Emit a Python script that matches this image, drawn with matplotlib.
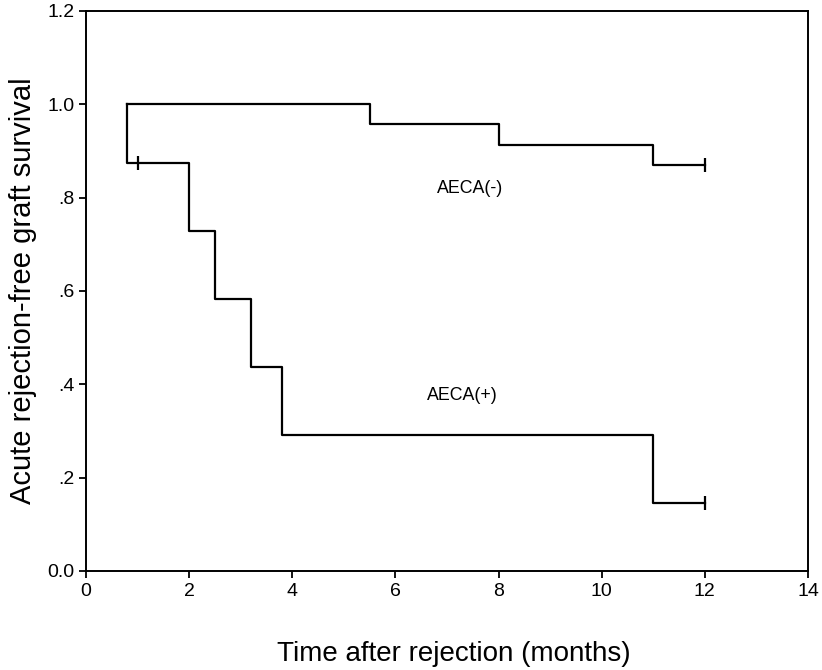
import numpy as np
import matplotlib
matplotlib.use("Agg")
import matplotlib.pyplot as plt

plt.rcParams['font.family'] = ['Liberation Sans', 'DejaVu Sans']

# Kaplan-Meier steps (time, survival after the step)
neg_times = [0.8, 5.5, 8.0, 11.0, 12.0]
neg_surv = [1.0, 0.957, 0.913, 0.870, 0.870]
neg_censor_t = [12.0]
neg_censor_s = [0.870]

pos_times = [0.8, 0.8, 2.0, 2.5, 3.2, 3.8, 11.0, 12.0]
pos_surv = [1.0, 0.875, 0.729, 0.583, 0.4375, 0.292, 0.146, 0.146]
pos_censor_t = [1.0, 12.0]
pos_censor_s = [0.875, 0.146]

yticks = [0.0, 0.2, 0.4, 0.6, 0.8, 1.0, 1.2]
ytick_labels = ['0.0', '.2', '.4', '.6', '.8', '1.0', '1.2']
xticks = [0, 2, 4, 6, 8, 10, 12, 14]

fig = plt.figure(figsize=(8.22, 6.70), dpi=100)
ax = fig.add_axes([0.1046, 0.1478, 0.8783, 0.8358])

ax.step(neg_times, neg_surv, where='post', color='black', lw=1.6)
ax.step(pos_times, pos_surv, where='post', color='black', lw=1.6)
ax.plot(neg_censor_t, neg_censor_s, ls='none', marker='|', ms=10, mew=1.6, color='black')
ax.plot(pos_censor_t, pos_censor_s, ls='none', marker='|', ms=10, mew=1.6, color='black')

ax.text(7.45, 0.82, 'AECA(-)', fontsize=12.8, ha='center', va='center')
ax.text(7.3, 0.376, 'AECA(+)', fontsize=12.8, ha='center', va='center')

ax.set_xlim(0, 14)
ax.set_ylim(0, 1.2)
ax.set_xticks(xticks)
ax.set_yticks(yticks)
ax.set_yticklabels(ytick_labels)
ax.tick_params(direction='out', length=5, width=1.3, labelsize=14, colors='black')
for s in ax.spines.values():
    s.set_linewidth(1.4)

ax.set_xlabel('Time after rejection (months)', fontsize=20, va='center')
ax.xaxis.set_label_coords(0.51, -0.148)
ax.set_ylabel('Acute rejection-free graft survival', fontsize=21, labelpad=7)

fig.savefig('out.png', dpi=100)
